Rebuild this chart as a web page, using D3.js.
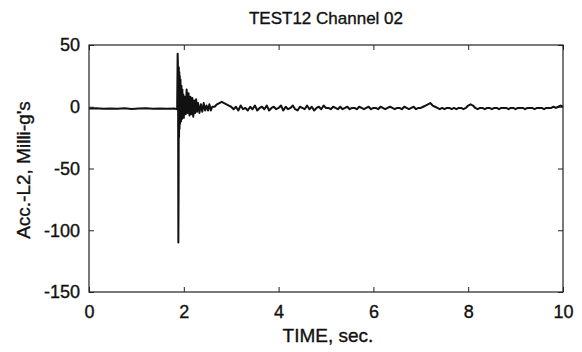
<!DOCTYPE html>
<html>
<head>
<meta charset="utf-8">
<script src="https://d3js.org/d3.v7.min.js"></script>
<style>
  body { margin: 0; background: #fff; }
  text { font-family: "Liberation Sans", Arial, sans-serif; fill: #111; stroke: #111; stroke-width: 0.35px; }
</style>
</head>
<body>
<div id="chart"></div>
<script>
// Chart text and ticks
const title = 'TEST12 Channel 02';
const xLabel = 'TIME, sec.';
const yLabel = "Acc.-L2, Milli-g's";
const xTicks = [0, 2, 4, 6, 8, 10];
const yTicks = [-150, -100, -50, 0, 50];

// Signal: pre-impact baseline
const preTime = [0, 0.15, 0.3, 0.45, 0.6, 0.75, 0.9, 1.05, 1.2, 1.35, 1.5, 1.65, 1.8, 1.86];
const preVal  = [-1.5, -1.2, -1.7, -1.4, -1.6, -1.3, -1.8, -1.5, -1.2, -1.6, -1.4, -1.7, -1.5, -2];

// Impact spike and ringing
const hitTime = [1.87, 1.875, 1.88, 1.885, 1.89, 1.895, 1.9, 1.905, 1.91, 1.915, 1.92, 1.93, 1.94, 1.95,
                 1.96, 1.97, 1.98, 1.99, 2.0, 2.02, 2.04, 2.06, 2.08, 2.1, 2.12, 2.14, 2.16, 2.18, 2.2,
                 2.22, 2.24, 2.26, 2.28, 2.3, 2.33, 2.36, 2.39, 2.42, 2.45, 2.48, 2.51, 2.54, 2.57, 2.6];
const hitVal  = [43, 36, 8, -110, -70, 32, -25, 28, -18, 25, -14, 22, -12, 17,
                 -10, 14, -8, 10, -9, 8, -6, 14, -5, 11, -7, 8, -6, 7, -8,
                 5, -5, 6, -4, 3, -5, 2, -4, 3, -3, 1, -3, 2, -3, 0];

// Settling, sampled every 0.05 s from 2.65 s to 10 s
const tailStart = 2.65;
const tailStep = 0.05;
const tailVal = [
  0, 2, 3, 4, 3, 2, 1, 0,
  -2, 0, -3, 1, -2, -1, -3, 0, -2, 1, -3, -1, 0, -2, 1, -3, -1, 0, -2, -1,
  1, -3, 0, -2, -1, 1, -2, -3, 0, -1, -2, 1, -2, 0, -3, -1, 0, -2, 1, -1,
  -1, -2, 0, -1, -2, 0, -2, -1, 0, -2, -1, -1, -2, 0, -1, -2, -1, 0, -2, -1,
  -1, -2, 0, -1, -2, -1, 0, -1, -2, -1, -1, -2, 0, -1, -2, -1, 0, -2, -1, -1,
  0, 1, 2, 3, 1, 0, -1, -2,
  -1, -2, -1, -1, -2, -1, -2, -1, -1, -2,
  -1, 1, 2, 1, -1, -2,
  -1, -1, -2, -1, -1, -2, -1, -1, -2, -1, -1, -1, -2, -1, -1, -2, -1, -1,
  -1, -2, -1, -1, -1, -2, -1, -1, -1, -2, -1, -1, -1, 0, -1, 0, 1, 0
];
const tailTime = tailVal.map((v, i) => +(tailStart + i * tailStep).toFixed(2));

const time = preTime.concat(hitTime, tailTime);
const accel = preVal.concat(hitVal, tailVal);

const width = 582, height = 352;
const margin = { top: 45, right: 19, bottom: 60, left: 89 };
const w = width - margin.left - margin.right;
const h = height - margin.top - margin.bottom;

const svg = d3.select('#chart').append('svg')
    .attr('width', width)
    .attr('height', height);

const g = svg.append('g')
    .attr('transform', `translate(${margin.left},${margin.top})`);

const x = d3.scaleLinear().domain([0, 10]).range([0, w]);
const y = d3.scaleLinear().domain([-150, 50]).range([h, 0]);

// Trace
const line = d3.line()
    .x(i => x(time[i]))
    .y(i => y(accel[i]));

g.append('path')
    .datum(d3.range(time.length))
    .attr('d', line)
    .attr('fill', 'none')
    .attr('stroke', '#111')
    .attr('stroke-width', 2)
    .attr('stroke-linejoin', 'round');

// Axes, ticks pointing inward, mirrored on top/right
const axisStyle = sel => {
    sel.select('.domain').remove();
    sel.selectAll('line').attr('stroke', '#222');
};
const fmt = d => String(d);

g.append('g')
    .attr('transform', `translate(0,${h})`)
    .call(d3.axisBottom(x).tickValues(xTicks).tickFormat(fmt).tickSize(-5).tickPadding(13))
    .call(axisStyle)
    .selectAll('text').style('font-size', '18px');

g.append('g')
    .call(d3.axisLeft(y).tickValues(yTicks).tickFormat(fmt).tickSize(-5).tickPadding(9))
    .call(axisStyle)
    .selectAll('text').style('font-size', '18px');

g.append('g')
    .call(d3.axisTop(x).tickValues(xTicks).tickSize(-5).tickFormat(''))
    .call(axisStyle);

g.append('g')
    .attr('transform', `translate(${w},0)`)
    .call(d3.axisRight(y).tickValues(yTicks).tickSize(-5).tickFormat(''))
    .call(axisStyle);

g.append('rect')
    .attr('width', w)
    .attr('height', h)
    .attr('fill', 'none')
    .attr('stroke', '#222')
    .attr('stroke-width', 1.2);

// Labels
svg.append('text')
    .attr('x', margin.left + w / 2)
    .attr('y', 24)
    .attr('text-anchor', 'middle')
    .style('font-size', '17px')
    .text(title);

svg.append('text')
    .attr('x', margin.left + w / 2 + 2)
    .attr('y', 342)
    .attr('text-anchor', 'middle')
    .style('font-size', '19px')
    .text(xLabel);

svg.append('text')
    .attr('transform', `translate(30,170) rotate(-90)`)
    .attr('text-anchor', 'middle')
    .style('font-size', '19px')
    .text(yLabel);
</script>
</body>
</html>
